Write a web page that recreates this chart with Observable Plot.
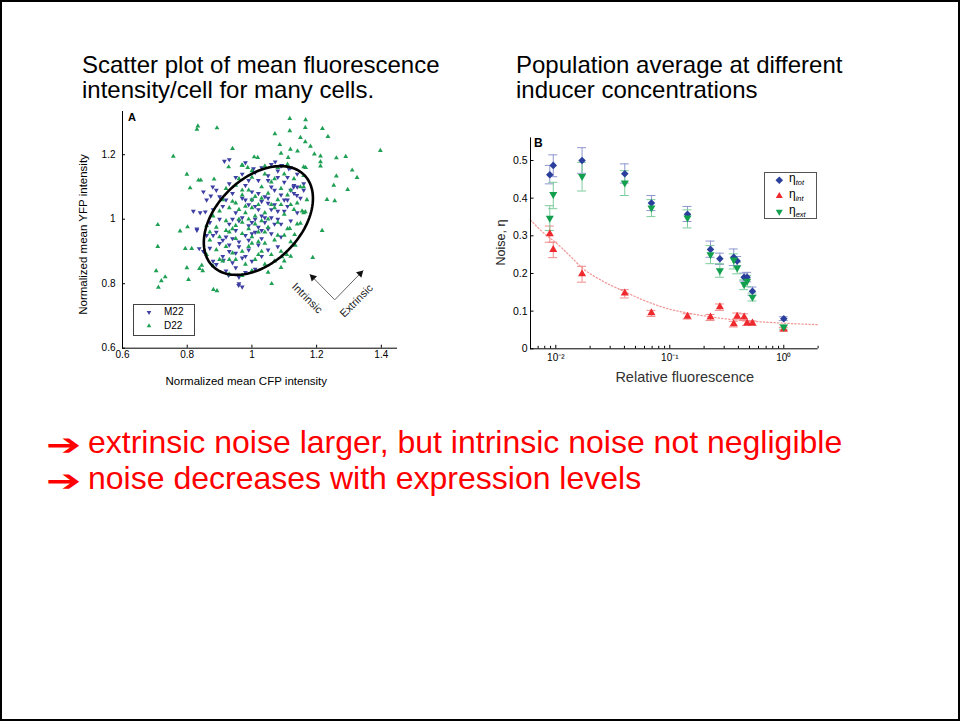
<!DOCTYPE html>
<html>
<head>
<meta charset="utf-8">
<script src="https://cdn.jsdelivr.net/npm/d3@7"></script>
<script src="https://cdn.jsdelivr.net/npm/@observablehq/plot@0.6"></script>
<style>
html,body{margin:0;padding:0;background:#fff;}
#slide{position:relative;width:960px;height:721px;overflow:hidden;background:#fff;font-family:"Liberation Sans",Arial,Helvetica,sans-serif;color:#000;}
#frame{position:absolute;left:0;top:0;width:960px;height:721px;box-sizing:border-box;border:2px solid #000;pointer-events:none;}
.abs{position:absolute;white-space:nowrap;}
.title{font-size:24px;line-height:25px;}
.bullet{font-size:32px;line-height:36px;color:#f00;}
.arrowglyph{font-family:"DejaVu Sans";color:#f00;font-size:30px;line-height:36px;font-weight:bold;transform:scaleX(1.4);transform-origin:0 50%;}
.legbox{position:absolute;box-sizing:border-box;border:1px solid #444;background:#fff;}
.chart{position:absolute;}
.panel{font-weight:bold;}
</style>
</head>
<body>
<div id="slide">
  <div class="abs title" style="left:82px;top:52px;">Scatter plot of mean fluorescence<br>intensity/cell for many cells.</div>
  <div class="abs title" style="left:516px;top:52px;">Population average at different<br>inducer concentrations</div>
  <div id="chartA" class="chart" style="left:70px;top:105px;"></div>
  <div id="chartB" class="chart" style="left:480px;top:130px;"></div>
  <div class="abs panel" style="left:128px;top:112px;font-size:11px;line-height:11px;">A</div>
  <div class="abs panel" style="left:534px;top:137px;font-size:12px;line-height:12px;">B</div>
  <div id="legendA"></div>
  <div id="legendB"></div>
  <div class="abs arrowglyph" style="left:46px;top:427px;">&#x2794;<br>&#x2794;</div>
  <div class="abs bullet" style="left:88px;top:424px;">extrinsic noise larger, but intrinsic noise not negligible<br>noise decreases with expression levels</div>
  <div id="frame"></div>
</div>
<script>
// ---------- Panel A data: normalized mean CFP (x) vs YFP (y) per cell ----------
const m22 = [
[0.915,1.180],[1.005,1.157],[0.879,1.100],[0.873,1.072],[0.850,1.085],[0.819,1.025],[0.856,1.023],[0.830,0.966],[0.837,0.909],[0.959,0.795],[0.928,0.826],[0.912,0.873],[1.072,1.178],[1.093,1.167],[1.114,1.157],[1.139,1.074],[1.129,1.100],[1.160,1.110],
[0.98,1.175],[1.06,1.17],[1.09,1.165],[1.12,1.16],[1.03,1.16],[0.93,1.185],
[0.97,1.14],[1.01,1.145],[1.05,1.135],[1.08,1.15],[1.11,1.13],[1.14,1.14],[0.95,1.13],
[0.93,1.11],[0.98,1.105],[1.02,1.12],[1.06,1.10],[1.10,1.115],[1.13,1.105],[1.16,1.09],[0.89,1.09],
[0.90,1.07],[0.94,1.08],[0.97,1.065],[1.00,1.085],[1.04,1.07],[1.07,1.09],[1.10,1.06],[1.13,1.08],[1.15,1.065],[0.86,1.06],
[0.88,1.03],[0.91,1.04],[0.95,1.02],[0.99,1.045],[1.02,1.03],[1.05,1.05],[1.08,1.025],[1.11,1.04],[1.14,1.02],[1.03,1.01],[0.84,1.02],[0.97,1.005],
[0.87,0.99],[0.90,1.00],[0.93,0.985],[0.96,0.995],[0.99,0.98],[1.01,1.00],[1.04,0.99],[1.06,1.005],[1.09,0.985],[1.12,0.995],[1.00,0.99],[1.02,0.975],[0.83,0.97],
[0.86,0.95],[0.89,0.96],[0.92,0.945],[0.95,0.965],[0.98,0.95],[1.01,0.96],[1.03,0.94],[1.06,0.955],[1.09,0.945],[0.94,0.94],[0.99,0.935],
[0.87,0.91],[0.90,0.925],[0.93,0.90],[0.96,0.915],[0.99,0.905],[1.02,0.92],[1.05,0.905],[1.08,0.915],[0.85,0.90],
[0.88,0.87],[0.91,0.885],[0.94,0.865],[0.97,0.88],[1.00,0.87],[1.03,0.885],[0.89,0.86],
[0.92,0.84],[0.95,0.85],[0.98,0.835],[1.01,0.845],[0.96,0.82],[0.96,0.80],[0.97,0.79],
[1.00,1.06],[1.02,1.08],[1.05,1.065],[1.07,1.045],[1.09,1.075],[1.03,1.055],[1.06,1.03],[1.08,1.00],[1.10,1.025],[1.04,1.005],
[0.98,1.06],[1.01,1.04],[1.05,0.97],[1.07,0.985],[1.03,0.965],[1.00,0.955],[0.96,0.93],[0.93,0.92],[0.91,0.935],[0.88,0.95],
[0.95,0.895],[0.98,0.885],[1.11,1.06],[1.12,1.09],[1.14,1.10],[1.08,1.13],[1.05,1.12],[0.99,1.12],[0.92,1.06],[0.94,1.00]
];
const d22 = [
[0.830,1.279],[0.833,1.289],[0.892,1.283],[0.940,1.219],[0.757,1.195],[1.117,1.312],[1.166,1.308],[1.165,1.284],[1.117,1.274],[1.071,1.265],
[1.150,1.253],[1.218,1.281],[1.235,1.256],[1.165,1.240],[1.086,1.231],[1.181,1.226],[1.119,1.217],[1.141,1.211],[1.112,1.191],[1.193,1.202],
[1.212,1.196],[1.212,1.178],[1.261,1.190],[1.290,1.194],[1.397,1.213],[1.310,1.152],[1.325,1.129],[1.261,1.134],[1.253,1.105],[1.296,1.092],
[1.232,1.061],[1.256,1.057],[1.217,0.965],[1.188,0.881],[1.061,0.800],[1.007,1.193],[1.018,1.191],[0.969,1.167],[0.799,1.139],[0.835,1.121],
[0.883,1.124],[0.801,0.976],[0.778,0.963],[0.709,0.983],[0.709,0.915],[0.704,0.840],[0.720,0.809],[0.732,0.821],[0.711,0.789],[0.799,0.849],
[0.804,0.813],[0.794,0.909],[0.814,0.909],[0.881,0.782],[0.892,0.778],[1.160,1.162],
[0.845,0.857],[0.838,0.847],[0.848,0.840],[1.093,0.883],[1.108,0.890],[1.134,0.919],[1.132,0.952],[1.117,0.971],[1.150,0.987],[1.155,1.025],
[1.165,1.023],[0.809,1.097],[0.842,1.121],[0.928,1.162],[0.971,1.167],[0.987,1.160],[1.090,1.204],[1.166,1.160],[1.160,1.100],[1.212,1.165],
[1.04,1.165],[1.08,1.16],[1.11,1.17],[1.00,1.15],
[0.96,1.125],[1.00,1.13],[1.04,1.14],[1.07,1.125],[1.10,1.14],[1.13,1.125],[1.16,1.135],
[0.92,1.095],[0.95,1.105],[0.99,1.09],[1.03,1.10],[1.06,1.115],[1.09,1.095],[1.12,1.09],[1.15,1.10],
[0.91,1.06],[0.94,1.055],[0.97,1.075],[1.00,1.06],[1.01,1.07],[1.03,1.065],[1.05,1.08],[1.08,1.06],[1.11,1.075],[1.14,1.05],[1.17,1.06],
[0.88,1.01],[0.90,1.025],[0.93,1.035],[0.96,1.03],[0.98,1.02],[1.00,1.035],[1.02,1.045],[1.04,1.02],[1.07,1.035],[1.10,1.015],[1.13,1.03],[1.16,1.02],
[0.86,0.98],[0.89,0.975],[0.92,0.995],[0.95,0.98],[0.97,0.99],[0.99,1.0],[1.01,0.985],[1.03,0.995],[1.05,0.975],[1.08,0.99],[1.11,0.97],[1.14,0.985],
[0.87,0.935],[0.90,0.945],[0.93,0.96],[0.95,0.94],[0.97,0.955],[1.00,0.945],[1.02,0.93],[1.04,0.96],[1.07,0.935],[1.10,0.95],[1.12,0.93],
[0.86,0.89],[0.89,0.905],[0.92,0.915],[0.94,0.895],[0.97,0.90],[1.00,0.925],[1.03,0.90],[1.06,0.89],[1.09,0.90],[1.12,0.885],
[0.88,0.855],[0.91,0.87],[0.95,0.875],[0.98,0.86],[1.01,0.875],[1.04,0.86],[1.07,0.87],
[0.93,0.83],[0.97,0.825],[1.00,0.84],[1.05,0.835],[1.09,0.85],[1.10,0.87],
[0.99,0.97],[1.02,0.96],[0.96,1.00],[0.98,1.04],[1.01,1.01],[0.94,0.97],[0.92,0.965],[1.05,1.00],[0.95,1.05],[0.97,1.09],
[1.06,1.045],[1.09,1.045],[0.90,0.875],[0.87,0.96],[0.99,0.915],[1.02,0.89],[1.04,0.925],[0.93,0.875],[1.08,0.95],[1.12,1.045]
];
const seriesA = ["M22", "D22"];
const xTicksA = [0.6, 0.8, 1.0, 1.2, 1.4];
const xTickLabelsA = ["0.6", "0.8", "1", "1.2", "1.4"];
const yTicksA = [0.6, 0.8, 1.0, 1.2];
const yTickLabelsA = ["0.6", "0.8", "1", "1.2"];
const xLabelA = "Normalized mean CFP intensity";
const yLabelA = "Normalized mean YFP intensity";
// ellipse annotation: centre x, centre y, semi-major, semi-minor, angle (deg)
const ellipseA = [1.02, 0.996, 0.2, 0.13, 45];
// arrow annotations: from vertex to tip, with label position
const arrowsA = [
  {label: "Intrinsic", x1: 1.256, y1: 0.750, x2: 1.179, y2: 0.829, lx: 1.171, ly: 0.755, rot: 45},
  {label: "Extrinsic", x1: 1.256, y1: 0.750, x2: 1.344, y2: 0.841, lx: 1.323, ly: 0.747, rot: -45}
];

// ---------- Panel B data: noise vs relative fluorescence ----------
const relFluor = [0.00886, 0.0095, 0.017, 0.0403, 0.069, 0.143, 0.2276, 0.275, 0.364, 0.39, 0.449, 0.477, 0.531, 1.0];
const etaTot   = [0.462, 0.487, 0.500, 0.465, 0.387, 0.357, 0.264, 0.239, 0.243, 0.233, 0.190, 0.190, 0.153, 0.080];
const etaTotLo = [0.438, 0.457, 0.466, 0.440, 0.367, 0.338, 0.243, 0.224, 0.221, 0.221, 0.180, 0.178, 0.142, 0.075];
const etaTotHi = [0.487, 0.515, 0.534, 0.491, 0.407, 0.378, 0.286, 0.254, 0.265, 0.245, 0.201, 0.203, 0.164, 0.085];
const etaInt   = [0.305, 0.263, 0.199, 0.148, 0.095, 0.086, 0.084, 0.111, 0.066, 0.086, 0.084, 0.068, 0.068, 0.052];
const etaIntLo = [0.283, 0.242, 0.177, 0.135, 0.086, 0.079, 0.075, 0.102, 0.058, 0.079, 0.075, 0.062, 0.062, 0.047];
const etaIntHi = [0.326, 0.283, 0.219, 0.157, 0.102, 0.093, 0.091, 0.119, 0.073, 0.095, 0.093, 0.074, 0.074, 0.057];
const etaExt   = [0.347, 0.410, 0.458, 0.441, 0.374, 0.348, 0.250, 0.208, 0.236, 0.215, 0.171, 0.180, 0.137, 0.0575];
const etaExtLo = [0.314, 0.372, 0.419, 0.407, 0.351, 0.321, 0.226, 0.190, 0.212, 0.199, 0.157, 0.165, 0.127, 0.052];
const etaExtHi = [0.380, 0.442, 0.495, 0.473, 0.396, 0.369, 0.274, 0.226, 0.252, 0.230, 0.183, 0.195, 0.148, 0.064];
// dotted fit of intrinsic noise
const fitX = [0.006, 0.008, 0.01, 0.013, 0.017, 0.025, 0.04, 0.06, 0.1, 0.15, 0.25, 0.4, 0.6, 1, 2];
const fitY = [0.342, 0.305, 0.282, 0.25, 0.215, 0.182, 0.152, 0.128, 0.105, 0.094, 0.083, 0.076, 0.072, 0.068, 0.064];
const majorTicksB = [0.01, 0.1, 1];
const majorTickLabelsB = ["10\u207B\u00B2", "10\u207B\u00B9", "10\u2070"];
const minorTicksB = [0.006,0.007,0.008,0.009,0.02,0.03,0.04,0.05,0.06,0.07,0.08,0.09,0.2,0.3,0.4,0.5,0.6,0.7,0.8,0.9,2];
const yTicksB = [0, 0.1, 0.2, 0.3, 0.4, 0.5];
const yTickLabelsB = ["0", "0.1", "0.2", "0.3", "0.4", "0.5"];
const xLabelB = "Relative fluorescence";
const yLabelB = "Noise, \u03B7";
const seriesB = ["tot", "int", "ext"];

// ---------- styles ----------
const BLUE_A = "#3d3fa3", GREEN_A = "#1fa055";
const BLUE_B = "#2a3f9c", RED_B = "#ee2a2e", GREEN_B = "#12a04e";
const BLUE_ERR = "#8e97cf", RED_ERR = "#f08a8a", GREEN_ERR = "#7ccc9c";
const FONT = "'Liberation Sans', Arial, Helvetica, sans-serif";

// ---------- Chart A ----------
{
  const W = 330, H = 290, mL = 52, mR = 3, mT = 6, mB = 47.3;
  const innerW = W - mL - mR, innerH = H - mT - mB;
  const [cx, cy, ea, eb, ang] = ellipseA;
  const th = ang * Math.PI / 180;
  const ell = d3.range(0, 361, 3).map(t => {
    const r = t * Math.PI / 180, u = ea * Math.cos(r), v = eb * Math.sin(r);
    return [cx + u * Math.cos(th) - v * Math.sin(th), cy + u * Math.sin(th) + v * Math.cos(th)];
  });
  const chart = Plot.plot({
    width: W, height: H, marginLeft: mL, marginRight: mR, marginTop: mT, marginBottom: mB,
    x: {domain: [0.6, 1.45]},
    y: {domain: [0.6, 1.334]},
    style: {background: "transparent", fontFamily: FONT, fontSize: "10px", color: "#000", overflow: "visible"},
    marks: [
      Plot.dot(m22, {x: d => d[0], y: d => d[1], symbol: "triangle", rotate: 180, r: 1.8, fill: BLUE_A}),
      Plot.dot(d22, {x: d => d[0], y: d => d[1], symbol: "triangle", r: 1.8, fill: GREEN_A}),
      Plot.line(ell, {x: d => d[0], y: d => d[1], stroke: "#000", strokeWidth: 2.6, curve: "linear"}),
      Plot.link(arrowsA, {x1: "x1", y1: "y1", x2: "x2", y2: "y2", stroke: "#666", strokeWidth: 1}),
      Plot.dot([arrowsA[0]], {x: "x2", y: "y2", symbol: "triangle", r: 2.8, fill: "#111", rotate: -45, dx: 3, dy: 3}),
      Plot.dot([arrowsA[1]], {x: "x2", y: "y2", symbol: "triangle", r: 2.8, fill: "#111", rotate: 45, dx: -3, dy: 3}),
      Plot.text([arrowsA[0]], {x: "lx", y: "ly", text: "label", rotate: 45, fontSize: 11, fill: "#222"}),
      Plot.text([arrowsA[1]], {x: "lx", y: "ly", text: "label", rotate: -45, fontSize: 11, fill: "#222"}),
      Plot.ruleX([0.6], {stroke: "#000"}),
      Plot.ruleY([0.6], {stroke: "#000"}),
      Plot.tickX(xTicksA, {x: d => d, insetTop: innerH - 3, stroke: "#000"}),
      Plot.tickY(yTicksA, {y: d => d, insetRight: innerW - 3, stroke: "#000"}),
      Plot.axisX(xTicksA, {tickSize: 0, tickPadding: 2.5, label: null, tickFormat: d => xTickLabelsA[xTicksA.indexOf(d)]}),
      Plot.axisY(yTicksA, {tickSize: 0, tickPadding: 7, label: null, tickFormat: d => yTickLabelsA[yTicksA.indexOf(d)]}),
      Plot.text([xLabelA], {text: d => d, frameAnchor: "bottom", textAnchor: "middle", lineAnchor: "middle", dx: -13.7, dy: 33.3, fontSize: 11.5}),
      Plot.text([yLabelA], {text: d => d, frameAnchor: "left", textAnchor: "middle", lineAnchor: "middle", dx: -39.3, dy: 4.6, rotate: -90, fontSize: 11.5})
    ]
  });
  document.getElementById("chartA").appendChild(chart);
}

// ---------- Chart B ----------
{
  const W = 350, H = 260, mL = 50, mR = 12.4, mT = 7.4, mB = 41.7;
  const innerW = W - mL - mR, innerH = H - mT - mB;
  const decadePx = innerW / (Math.log10(2) - Math.log10(0.006));
  const capF = Math.pow(10, 4.5 / decadePx);
  const rows = relFluor.map((x, i) => ({
    x, tot: etaTot[i], totLo: etaTotLo[i], totHi: etaTotHi[i],
    int: etaInt[i], intLo: etaIntLo[i], intHi: etaIntHi[i],
    ext: etaExt[i], extLo: etaExtLo[i], extHi: etaExtHi[i]
  }));
  const fit = fitX.map((x, i) => ({x, y: fitY[i]}));
  const errMarks = (k, color) => [
    Plot.ruleX(rows, {x: "x", y1: k + "Lo", y2: k + "Hi", stroke: color, strokeWidth: 1}),
    Plot.ruleY(rows, {y: k + "Lo", x1: d => d.x / capF, x2: d => d.x * capF, stroke: color, strokeWidth: 1}),
    Plot.ruleY(rows, {y: k + "Hi", x1: d => d.x / capF, x2: d => d.x * capF, stroke: color, strokeWidth: 1})
  ];
  const chart = Plot.plot({
    width: W, height: H, marginLeft: mL, marginRight: mR, marginTop: mT, marginBottom: mB,
    x: {type: "log", domain: [0.006, 2]},
    y: {domain: [0, 0.56]},
    style: {background: "transparent", fontFamily: FONT, fontSize: "10.5px", color: "#000", overflow: "visible"},
    marks: [
      Plot.line(fit, {x: "x", y: "y", stroke: "#f29a9a", strokeWidth: 1.3, strokeDasharray: "1.3,2.2", curve: "monotone-x"}),
      ...errMarks("int", RED_ERR),
      ...errMarks("tot", BLUE_ERR),
      ...errMarks("ext", GREEN_ERR),
      Plot.dot(rows, {x: "x", y: "int", symbol: "triangle", r: 3, fill: RED_B}),
      Plot.dot(rows, {x: "x", y: "tot", symbol: "diamond2", r: 3.4, fill: BLUE_B}),
      Plot.dot(rows, {x: "x", y: "ext", symbol: "triangle", rotate: 180, r: 3, fill: GREEN_B}),
      Plot.ruleX([0.006], {stroke: "#000"}),
      Plot.ruleY([0], {stroke: "#000"}),
      Plot.tickX(minorTicksB, {x: d => d, insetTop: innerH - 2.5, stroke: "#000"}),
      Plot.tickX(majorTicksB, {x: d => d, insetTop: innerH - 3.5, stroke: "#000"}),
      Plot.tickY(yTicksB, {y: d => d, insetRight: innerW - 3.5, stroke: "#000"}),
      Plot.axisX(majorTicksB, {tickSize: 0, tickPadding: 5, label: null, fontSize: 10, tickFormat: d => majorTickLabelsB[majorTicksB.indexOf(d)]}),
      Plot.axisY(yTicksB, {tickSize: 0, tickPadding: 3, label: null, tickFormat: d => yTickLabelsB[yTicksB.indexOf(d)]}),
      Plot.text([xLabelB], {text: d => d, frameAnchor: "bottom", textAnchor: "middle", lineAnchor: "middle", dx: 10.4, dy: 28.4, fontSize: 14.5, fill: "#333"}),
      Plot.text([yLabelB], {text: d => d, frameAnchor: "left", textAnchor: "middle", lineAnchor: "middle", dx: -30, dy: -0.8, rotate: -90, fontSize: 12.5, fill: "#222"})
    ]
  });
  document.getElementById("chartB").appendChild(chart);
}

// ---------- Legends (HTML) ----------
function tri(cx, cy, s, color, down) {
  const h = s * 0.87;
  const pts = down
    ? `${cx - s/2},${cy - h/3} ${cx + s/2},${cy - h/3} ${cx},${cy + 2*h/3}`
    : `${cx - s/2},${cy + h/3} ${cx + s/2},${cy + h/3} ${cx},${cy - 2*h/3}`;
  return `<polygon points="${pts}" fill="${color}"/>`;
}
{
  const el = document.getElementById("legendA");
  el.innerHTML = `
    <div class="legbox" style="left:133px;top:304px;width:62px;height:32px;"></div>
    <svg class="abs" style="left:0;top:0;overflow:visible" width="1" height="1">
      ${tri(149, 312.3, 4.6, BLUE_A, true)}${tri(149, 326, 4.6, GREEN_A, false)}
    </svg>
    <div class="abs" style="left:164px;top:306px;font-size:10px;line-height:12px;">${seriesA[0]}</div>
    <div class="abs" style="left:164px;top:320px;font-size:10px;line-height:12px;">${seriesA[1]}</div>`;
}
{
  const el = document.getElementById("legendB");
  const ys = [180.3, 196, 211.7];
  const sym = [
    `<polygon points="779.3,176.5 783.1,180.3 779.3,184.1 775.5,180.3" fill="${BLUE_B}"/>`,
    tri(779.3, 196, 7, RED_B, false),
    tri(779.3, 211.7, 7, GREEN_B, true)
  ].join("");
  el.innerHTML = `
    <div class="legbox" style="left:764px;top:172px;width:53px;height:47px;border-color:#555;"></div>
    <svg class="abs" style="left:0;top:0;overflow:visible" width="1" height="1">${sym}</svg>
    ${seriesB.map((s, i) => `<div class="abs" style="left:789px;top:${ys[i] - 9}px;font-size:12px;line-height:14px;">\u03B7<span style="font-size:7.5px;font-style:italic;position:relative;top:3px;">${s}</span></div>`).join("")}`;
}
</script>
</body>
</html>
